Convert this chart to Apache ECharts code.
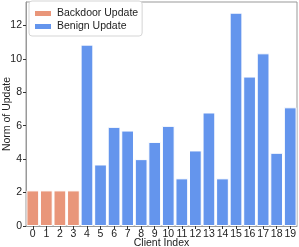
<!DOCTYPE html>
<html><head><meta charset="utf-8">
<script src="https://cdn.jsdelivr.net/npm/echarts@6/dist/echarts.min.js"></script>
<style>html,body{margin:0;padding:0;background:#fff}#c{width:299px;height:247px}</style>
</head><body><div id="c"></div>
<script>
const categories = ['0','1','2','3','4','5','6','7','8','9','10','11','12','13','14','15','16','17','18','19'];
const backdoorValues = [2.13,2.13,2.13,2.13];
const benignValues = [10.85,3.68,5.93,5.71,4.0,5.03,5.99,2.85,4.52,6.79,2.85,12.76,8.94,10.33,4.38,7.1];
const yTicks = [0,2,4,6,8,10,12];
const backdoorData = categories.map((c,i)=> i<backdoorValues.length ? backdoorValues[i] : '-');
const benignData = categories.map((c,i)=> i<backdoorValues.length ? '-' : benignValues[i-backdoorValues.length]);
const font = 'Liberation Sans';
const chart = echarts.init(document.getElementById('c'));
chart.setOption({
  animation:false,
  textStyle:{fontFamily:font},
  grid:{left:26,right:2,top:2,bottom:21,containLabel:false,outerBoundsMode:'none',show:true,borderColor:'#999',borderWidth:1},
  legend:{orient:'vertical',left:29,top:1,itemWidth:18,itemHeight:7,itemGap:2,padding:[7,4,4,4],
    borderColor:'#d5d5d5',borderWidth:1,borderRadius:3,backgroundColor:'#fff',
    textStyle:{fontFamily:font,fontSize:10.5,color:'#222'},
    data:[{name:'Backdoor Update',icon:'rect'},{name:'Benign Update',icon:'rect'}]},
  xAxis:{type:'category',data:categories,
    axisLine:{lineStyle:{color:'#999'}},
    axisTick:{show:true,alignWithLabel:true,length:3,lineStyle:{color:'#333'}},
    axisLabel:{fontFamily:font,fontSize:10.5,color:'#222',margin:3,interval:0},
    name:'Client Index',nameLocation:'middle',nameGap:12,nameMoveOverlap:false,nameTextStyle:{fontFamily:font,fontSize:10.5,color:'#222',verticalAlign:'top',padding:0}},
  yAxis:{type:'value',min:0,max:13.4,
    axisLine:{show:true,lineStyle:{color:'#999'}},
    splitLine:{show:false},
    axisTick:{show:true,length:3,customValues:yTicks,lineStyle:{color:'#333'}},
    axisLabel:{fontFamily:font,fontSize:10.5,color:'#222',margin:4,customValues:yTicks},
    name:'Norm of Update',nameLocation:'middle',nameGap:13,nameRotate:90,nameMoveOverlap:false,nameTextStyle:{fontFamily:font,fontSize:10.5,color:'#222',verticalAlign:'bottom',padding:0}},
  series:[
    {name:'Backdoor Update',type:'bar',stack:'s',data:backdoorData,barWidth:'94%',
     itemStyle:{color:'#E9967A',borderColor:'#fff',borderWidth:1}},
    {name:'Benign Update',type:'bar',stack:'s',data:benignData,barWidth:'94%',
     itemStyle:{color:'#6495ED',borderColor:'#fff',borderWidth:1}}
  ]
});
</script></body></html>
